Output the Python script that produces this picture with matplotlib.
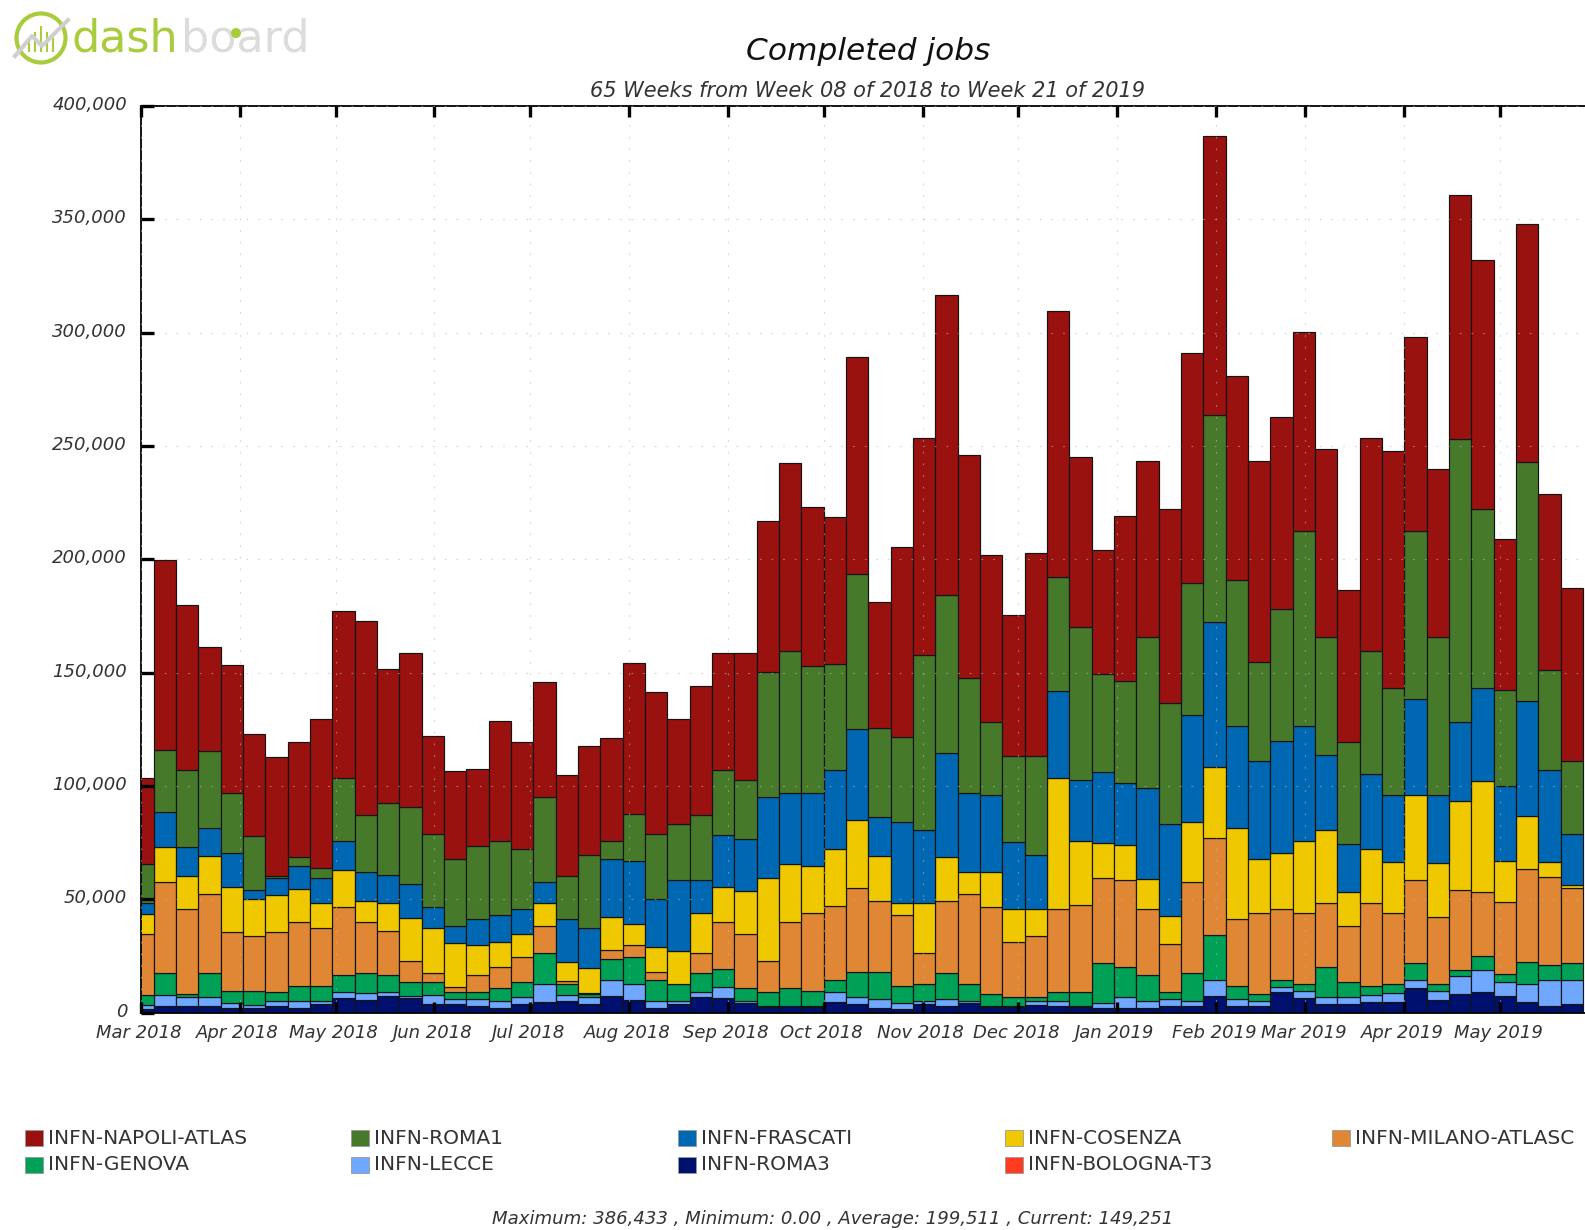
import matplotlib
matplotlib.use("Agg")
import matplotlib.pyplot as plt
import matplotlib.dates as mdates
import numpy as np
import pandas as pd
from matplotlib.patches import Circle, Rectangle
from matplotlib.ticker import FuncFormatter, FixedLocator
from matplotlib.transforms import ScaledTranslation

ROMA3 = [1500,2900,2900,2900,1900,1900,2900,2200,3800,6500,5600,7400,6600,3800,3700,3100,2100,3800,4600,5300,3800,7400,5600,2200,3800,7100,6500,4100,2600,2900,2600,4600,3800,2200,1500,3800,2900,4100,2600,2600,3400,2900,2600,2200,1900,1900,2900,2900,7400,2900,2900,9000,6600,3800,3800,4700,4700,10900,5600,8200,9000,7400,4700,2900,3800]
LECCE = [1800,4700,4000,4000,2500,1300,2200,2900,1200,2400,3200,1500,900,4000,2500,3100,3100,3200,8100,2500,2900,6800,7100,2900,1300,1800,5000,1200,300,0,300,4300,2900,3700,2900,1200,3200,1000,300,300,1500,2200,300,1900,4900,3100,3100,2100,7100,3100,2100,2500,3100,3100,3100,3200,4100,3500,4100,7900,9900,6000,7900,11500,10600]
GENOVA = [4600,9700,1300,10400,5300,6500,3800,6600,6800,7500,8500,7500,6000,5700,2800,2800,5700,6500,13800,4900,1500,9400,11800,9300,7500,8500,7600,5400,6000,7800,6800,5600,11300,12200,7400,7600,11200,7500,5100,4100,2200,3800,6000,17600,13500,11500,2900,12400,19600,5700,3100,2900,2900,13400,6600,3800,3800,7400,2900,2900,5900,3700,9900,6500,7400]
MILANO = [26900,40400,37600,34900,26000,24100,26800,28400,25700,30400,22800,19400,9300,3800,2200,7600,9400,11200,11900,1300,300,3800,5400,3700,0,9100,21000,24000,13800,29400,34100,32400,36800,31300,31200,13800,32100,39600,38700,24000,26900,36900,38700,37900,38200,29400,21200,40400,42900,29600,35700,31500,31200,28200,24900,36800,31200,36800,29400,35000,28500,31500,40700,38800,33100]
COSENZA = [8800,15400,14400,17100,19900,16200,16200,14400,10700,16200,9100,12500,19100,20100,19700,13400,10700,9900,9900,8500,11200,14600,9100,11000,14700,17400,15400,19100,36500,25400,21000,25300,30100,19900,5300,21800,19100,10000,15400,14600,11800,57500,28100,15300,15400,13200,12600,26200,31200,40000,23800,24400,31900,32100,14600,23700,22800,37500,23800,39300,49100,18100,23700,6900,1200]
FRASCATI = [4700,15400,12900,12200,15000,4100,7600,10300,11300,12900,12900,12200,14900,9300,7500,11200,11900,11300,9400,18700,17800,25700,27800,21200,31200,14700,22900,22900,36000,31500,32200,35000,40300,16800,35900,32400,46200,34900,34000,29600,23800,38700,26900,31300,27600,39900,40600,47200,64300,45100,43200,49700,50700,33100,21300,33100,29600,42200,30100,35000,40600,33100,50600,40400,22500]
ROMA1 = [17400,27500,33800,34000,26500,23700,900,4000,4300,27500,24900,31900,33800,32100,29400,32100,32800,26500,37600,19100,32100,8100,20900,28400,24700,28400,28500,25900,55000,62500,55900,46800,68100,39300,37600,77100,69600,50400,32100,38200,43800,50300,67600,43100,44900,66900,53100,58500,91200,64300,44000,57900,85900,52200,44900,54300,46800,74100,70000,124900,79100,42400,105400,44100,32200]
NAPOLI = [37800,83800,72800,46000,56200,45300,52500,50600,65700,73800,85700,59100,68200,43400,38800,34100,52800,47100,50700,44400,47900,45400,66600,62800,46300,57200,51800,56200,66500,83100,70000,64700,96000,55600,83800,96000,132400,98500,73700,61900,89600,117200,75000,55000,72900,77600,86000,101500,122900,90300,88700,84700,88100,82900,67400,94100,105000,85900,73800,107500,110100,66600,104900,77500,76500]
BOLOGNA = [0] * 65

STACK = [("INFN-ROMA3", ROMA3, "#00106e"), ("INFN-LECCE", LECCE, "#70a8ff"),
         ("INFN-GENOVA", GENOVA, "#00a057"), ("INFN-MILANO-ATLASC", MILANO, "#e08735"),
         ("INFN-COSENZA", COSENZA, "#f0c800"), ("INFN-FRASCATI", FRASCATI, "#0068b3"),
         ("INFN-ROMA1", ROMA1, "#467a2a"), ("INFN-NAPOLI-ATLAS", NAPOLI, "#99120f"),
         ("INFN-BOLOGNA-T3", BOLOGNA, "#ff3b20")]
LEGEND_ORDER = ["INFN-NAPOLI-ATLAS", "INFN-ROMA1", "INFN-FRASCATI", "INFN-COSENZA",
                "INFN-MILANO-ATLASC", "INFN-GENOVA", "INFN-LECCE", "INFN-ROMA3", "INFN-BOLOGNA-T3"]
MONTH_STARTS = ["2018-03-01","2018-04-01","2018-05-01","2018-06-01","2018-07-01","2018-08-01",
                "2018-09-01","2018-10-01","2018-11-01","2018-12-01","2019-01-01","2019-02-01",
                "2019-03-01","2019-04-01","2019-05-01"]
MONTH_LABELS = ["Mar 2018","Apr 2018","May 2018","Jun 2018","Jul 2018","Aug 2018","Sep 2018",
                "Oct 2018","Nov 2018","Dec 2018","Jan 2019","Feb 2019","Mar 2019","Apr 2019","May 2019"]
Y_TICKS = [0, 50000, 100000, 150000, 200000, 250000, 300000, 350000, 400000]

W, H = 1585, 1230
plt.rcParams["font.family"] = "DejaVu Sans"
fig = plt.figure(figsize=(W / 100, H / 100), dpi=100, facecolor="white")

# pixel overlay for logo and legend
ov = fig.add_axes([0, 0, 1, 1], zorder=5)
ov.set_xlim(0, W); ov.set_ylim(H, 0); ov.axis("off")

L, R, T, B = 141, 1585, 106, 1012.6
ax = fig.add_axes([L / W, 1 - B / H, (R - L) / W, (B - T) / H], zorder=2)

weeks = mdates.date2num(pd.date_range("2018-02-26", periods=65, freq="7D"))
bottom = np.zeros(65)
for name, vals, col in STACK:
    v = np.array(vals, float)
    ax.bar(weeks, v, width=7, bottom=bottom, align="edge", color=col,
           edgecolor="#141414" if v.sum() else "none", linewidth=0.85 if v.sum() else 0)
    bottom += v

x0 = mdates.date2num(pd.Timestamp("2018-03-01"))
ax.set_xlim(x0, x0 + (R - L) / 3.19)
ax.set_ylim(0, 400000)
ticks = mdates.date2num(pd.to_datetime(MONTH_STARTS))
ax.xaxis.set_major_locator(FixedLocator(ticks))
ax.set_xticklabels(MONTH_LABELS, fontstyle="italic", fontsize=13, color="#333333")
ax.yaxis.set_major_locator(FixedLocator(Y_TICKS))
ax.yaxis.set_major_formatter(FuncFormatter(lambda v, _: f"{int(v):,}"))
for lab in ax.get_yticklabels():
    lab.set_fontstyle("italic"); lab.set_fontsize(13); lab.set_color("#333333")
ax.tick_params(axis="x", direction="in", length=8, width=2.4, top=True, bottom=True, pad=8.5)
ax.tick_params(axis="y", direction="in", length=9, width=2.4, left=True, right=False, pad=10)
for lab in ax.get_yticklabels():
    lab.set_transform(lab.get_transform() + ScaledTranslation(0, 3 / 100, fig.dpi_scale_trans))
for lab in ax.get_xticklabels():
    lab.set_transform(lab.get_transform() + ScaledTranslation(-2 / 100, 0, fig.dpi_scale_trans))
ax.grid(True, color="#b8b8b8", linestyle=(0, (1.5, 9)), linewidth=0.8, alpha=0.6)
ax.set_axisbelow(False)
for s in ("top", "left", "bottom"):
    ax.spines[s].set_linewidth(1.3)
ax.spines["right"].set_visible(False)

# titles
ov.text(868, 52, "Completed jobs", ha="center", va="center", fontsize=22.5, fontstyle="italic", color="#111111")
ov.text(868, 91, "65 Weeks from Week 08 of 2018 to Week 21 of 2019", ha="center", va="center",
        fontsize=15, fontstyle="italic", color="#333333")
ov.text(833, 1219, "Maximum: 386,433 , Minimum: 0.00 , Average: 199,511 , Current: 149,251",
        ha="center", va="center", fontsize=13.1, fontstyle="italic", color="#333333")

# logo
GREEN, GREY = "#a8cc3c", "#dcdcdc"
ov.add_patch(Circle((41, 38), 24.5, fill=False, ec=GREEN, lw=3))
for dx, h in zip((-12, -6, 0, 6, 12), (12, 20, 26, 20, 14)):
    ov.plot([41 + dx, 41 + dx], [52, 52 - h], color=GREEN, lw=1.5, solid_capstyle="butt")
ov.plot([15, 32, 42, 68], [56, 36, 46, 20], color="#cfcfcf", lw=3)
ov.text(72, 39, "dash", ha="left", va="center", fontsize=32, color=GREEN, fontweight="normal")
ov.text(181, 39, "board", ha="left", va="center", fontsize=32, color=GREY, fontweight="normal")
ov.add_patch(Circle((236, 33), 5, fc=GREEN, ec="none", zorder=6))

# legend
colors = {n: c for n, _, c in STACK}
for i, name in enumerate(LEGEND_ORDER):
    cx = 24.5 + 326.9 * (i % 5)
    cy = 1138 + 27 * (i // 5)
    ov.add_patch(Rectangle((cx, cy - 8), 18, 16, fc=colors[name], ec="#999999", lw=0.6))
    ov.text(cx + 23, cy, name, ha="left", va="center", fontsize=14.5, color="#333333")

fig.savefig("out.png", dpi=100, facecolor="white")
